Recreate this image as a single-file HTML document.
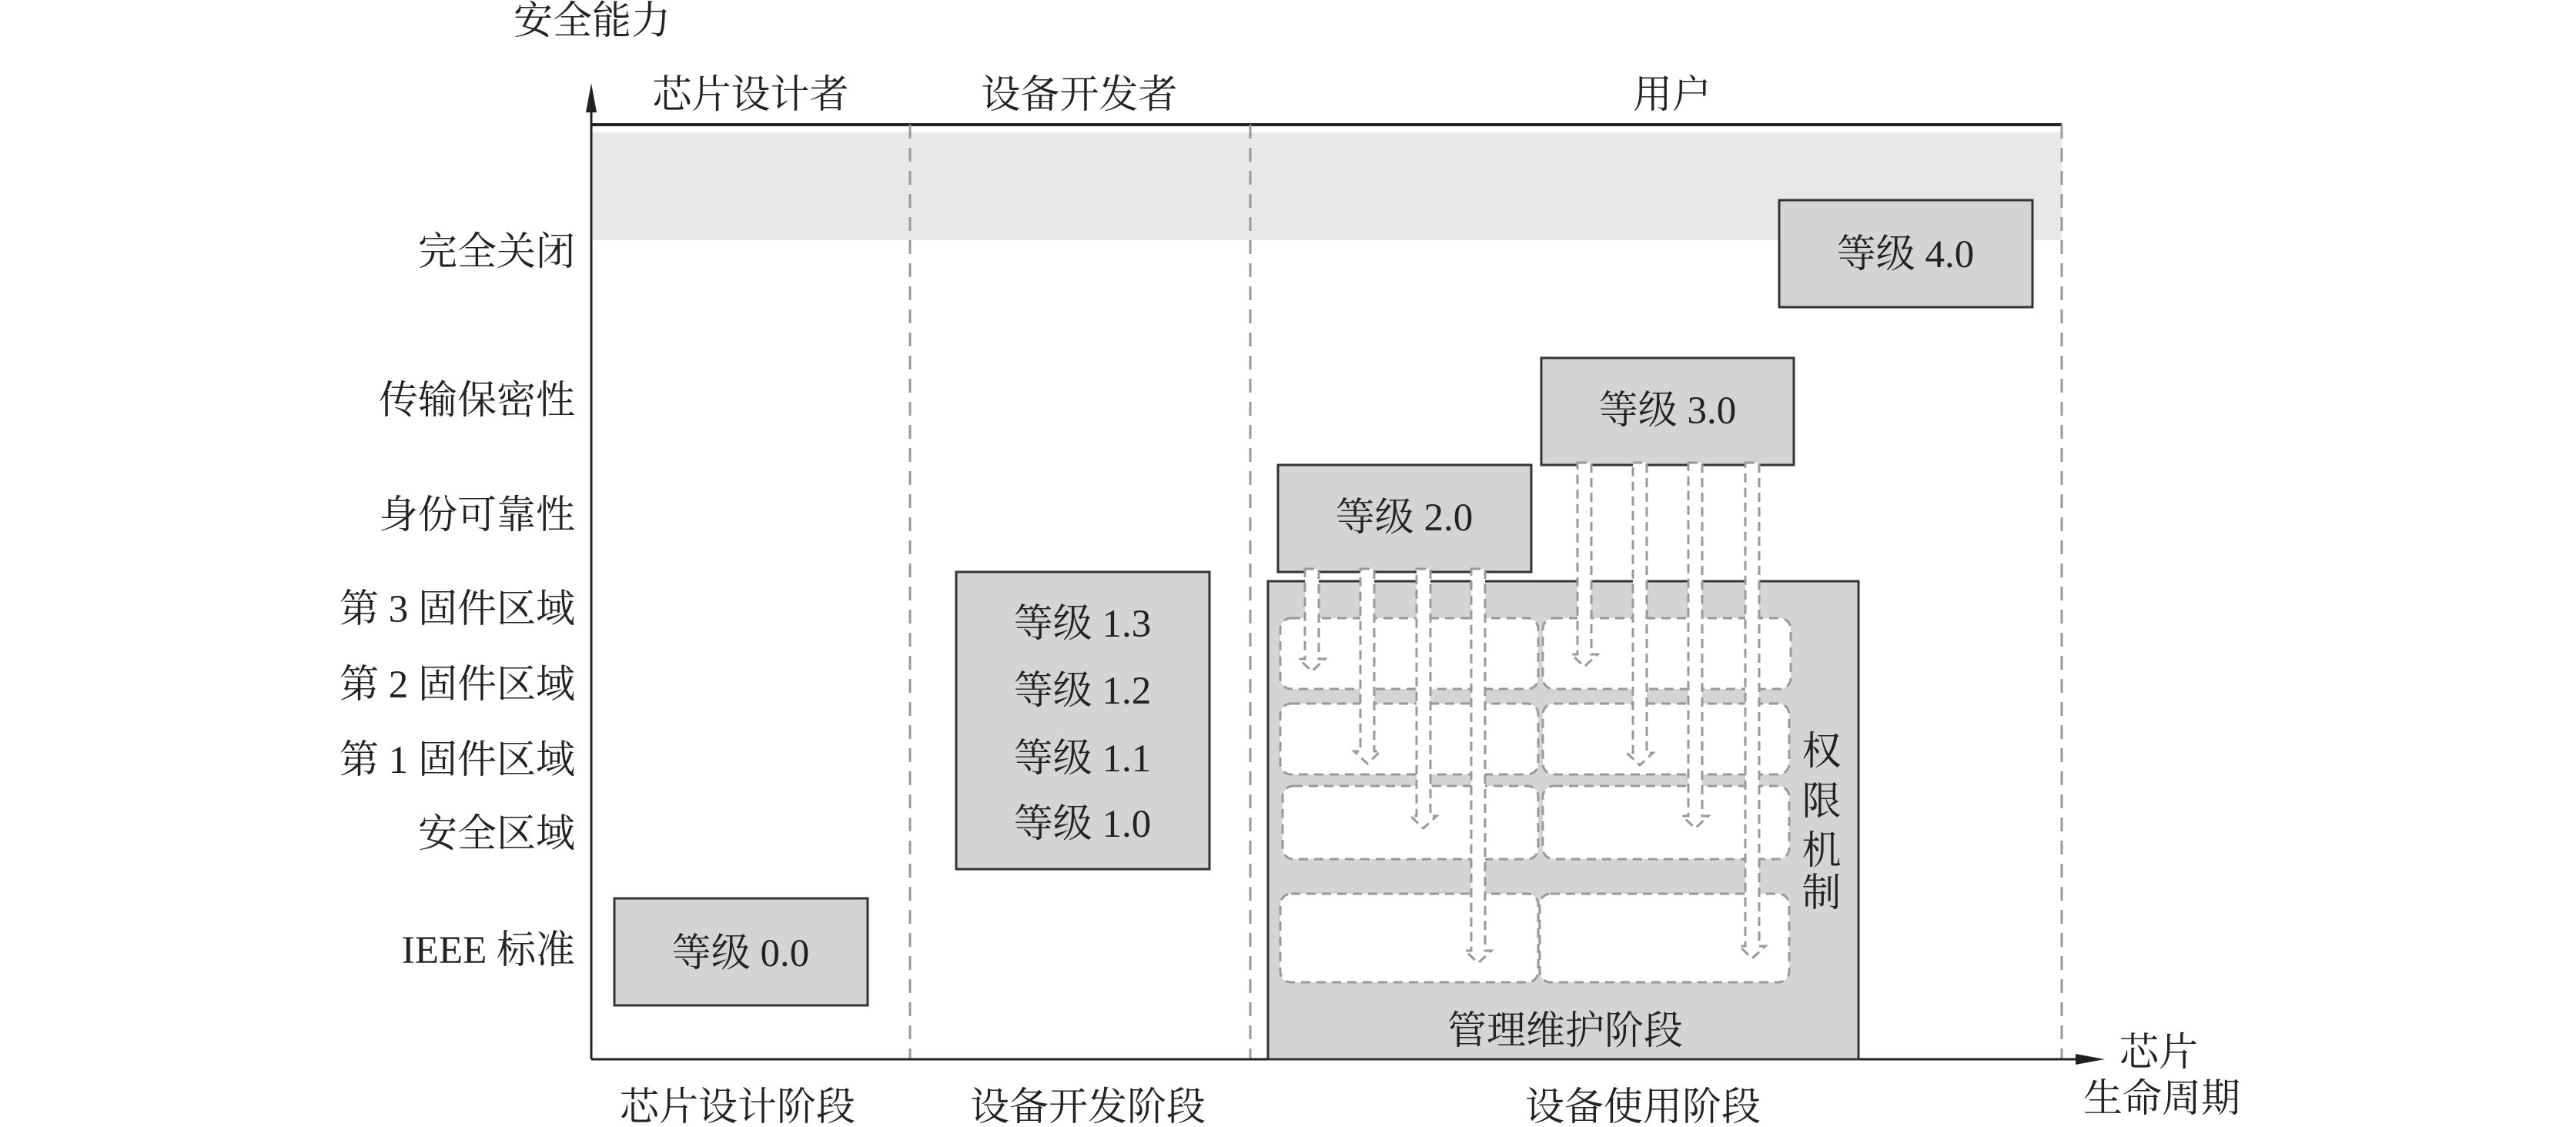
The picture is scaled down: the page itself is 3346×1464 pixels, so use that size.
<!DOCTYPE html>
<html><head><meta charset="utf-8"><style>
html,body{margin:0;padding:0;background:#fff;}
svg{display:block;}
text{font-family:"Liberation Serif","Noto Serif CJK SC",serif;fill:#222;font-size:51px;}
</style></head><body>
<svg width="3346" height="1464" viewBox="0 0 3346 1464" xmlns="http://www.w3.org/2000/svg">
<!-- grey band -->
<rect x="768" y="172" width="1910" height="140" fill="#e8e8e8"/>
<!-- top line -->
<line x1="768" y1="162" x2="2678" y2="162" stroke="#222" stroke-width="4"/>
<!-- dashed verticals -->
<g stroke="#999" stroke-width="3" stroke-dasharray="18,12">
<line x1="1182" y1="162" x2="1182" y2="1376"/>
<line x1="1624" y1="162" x2="1624" y2="1376"/>
<line x1="2678" y1="162" x2="2678" y2="1376"/>
</g>
<!-- axes -->
<line x1="768" y1="1376" x2="768" y2="130" stroke="#222" stroke-width="3"/>
<polygon points="768,108 761,146 775,146" fill="#222"/>
<line x1="768" y1="1376" x2="2700" y2="1376" stroke="#222" stroke-width="3"/>
<polygon points="2734,1376 2696,1369 2696,1383" fill="#222"/>
<!-- axis titles -->
<text x="667" y="44">安全能力</text>
<text x="2753" y="1384">芯片</text>
<text x="2706" y="1444">生命周期</text>
<!-- headers -->
<g text-anchor="middle">
<text x="975" y="140">芯片设计者</text>
<text x="1402" y="140">设备开发者</text>
<text x="2172" y="140">用户</text>
<text x="958" y="1455">芯片设计阶段</text>
<text x="1413" y="1455">设备开发阶段</text>
<text x="2134" y="1455">设备使用阶段</text>
</g>
<!-- y labels -->
<g text-anchor="end">
<text x="747" y="344">完全关闭</text>
<text x="747" y="537">传输保密性</text>
<text x="747" y="686">身份可靠性</text>
<text x="747" y="808">第 3 固件区域</text>
<text x="747" y="906">第 2 固件区域</text>
<text x="747" y="1004">第 1 固件区域</text>
<text x="747" y="1100">安全区域</text>
<text x="747" y="1251">IEEE 标准</text>
</g>
<!-- boxes -->
<g fill="#d4d4d4" stroke="#333" stroke-width="3">
<rect x="798" y="1167" width="329" height="139"/>
<rect x="1242" y="743" width="329" height="386"/>
<rect x="2311" y="260" width="329" height="139"/>
<rect x="2002" y="465" width="328" height="139"/>
<rect x="1660" y="604" width="329" height="139"/>
<rect x="1647" y="755" width="767" height="621"/>
</g>
<g text-anchor="middle">
<text x="962" y="1255">等级 0.0</text>
<text x="1406" y="827">等级 1.3</text>
<text x="1406" y="914">等级 1.2</text>
<text x="1406" y="1002">等级 1.1</text>
<text x="1406" y="1087">等级 1.0</text>
<text x="2475" y="347">等级 4.0</text>
<text x="2166" y="550">等级 3.0</text>
<text x="1824" y="689">等级 2.0</text>
<text x="2033" y="1356">管理维护阶段</text>
<text x="2366" y="993">权</text>
<text x="2366" y="1058">限</text>
<text x="2366" y="1122">机</text>
<text x="2366" y="1177">制</text>
</g>
<!-- cells -->
<g fill="#fff" stroke="#999" stroke-width="3" stroke-dasharray="12,8">
<rect x="1663" y="803" width="335" height="92" rx="14"/>
<rect x="2004" y="803" width="322" height="92" rx="14"/>
<rect x="1663" y="914" width="335" height="92" rx="14"/>
<rect x="2004" y="914" width="320" height="92" rx="14"/>
<rect x="1666" y="1021" width="332" height="95" rx="14"/>
<rect x="2004" y="1021" width="320" height="95" rx="14"/>
<rect x="1663" y="1161" width="335" height="115" rx="14"/>
<rect x="2000" y="1161" width="324" height="115" rx="14"/>
</g>
<!-- arrows -->
<g fill="#fff" stroke="#999" stroke-width="3" stroke-dasharray="12,7">
<polygon points="1695,739 1713,739 1713,856 1721,856 1704,872 1687,856 1695,856"/>
<polygon points="1767,739 1785,739 1785,976 1793,976 1776,992 1759,976 1767,976"/>
<polygon points="1840,739 1858,739 1858,1060 1866,1060 1849,1076 1832,1060 1840,1060"/>
<polygon points="1911,739 1929,739 1929,1235 1937,1235 1920,1251 1903,1235 1911,1235"/>
<polygon points="2049,601 2067,601 2067,850 2075,850 2058,866 2041,850 2049,850"/>
<polygon points="2121,601 2139,601 2139,978 2147,978 2130,994 2113,978 2121,978"/>
<polygon points="2193,601 2211,601 2211,1060 2219,1060 2202,1076 2185,1060 2193,1060"/>
<polygon points="2267,601 2285,601 2285,1229 2293,1229 2276,1245 2259,1229 2267,1229"/>
</g>
</svg>
</body></html>
